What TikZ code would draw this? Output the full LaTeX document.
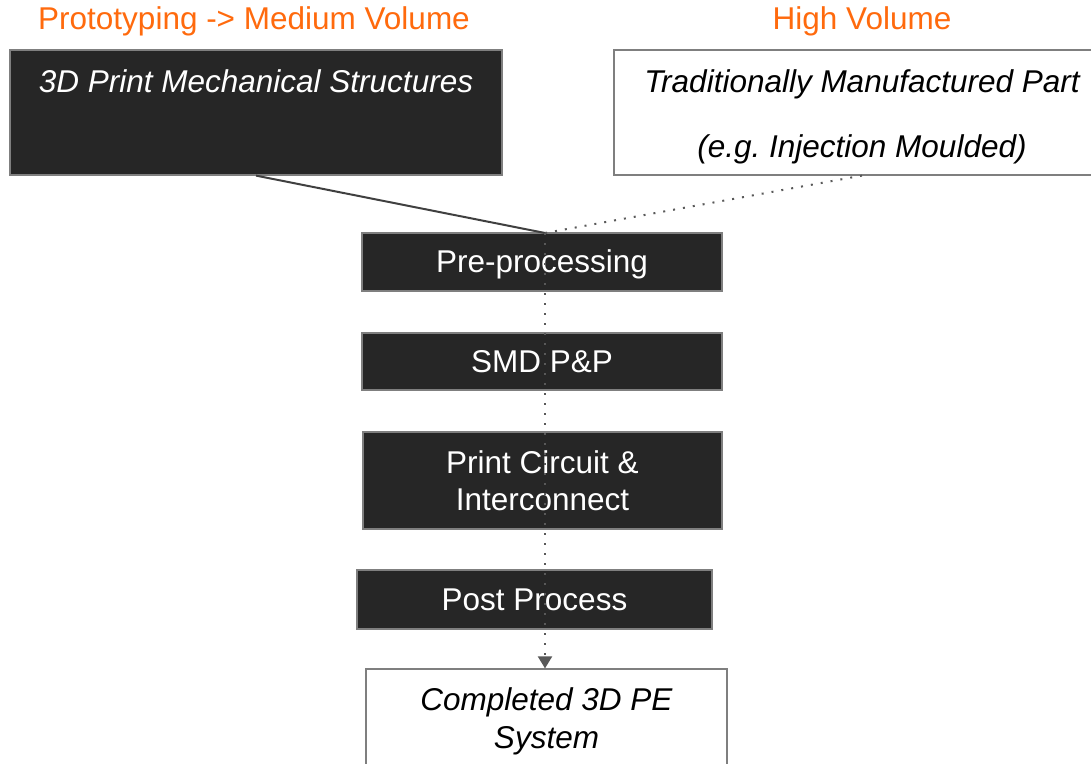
\documentclass[tikz,border=0pt]{standalone}
\usepackage{fontspec}
\setmainfont{Liberation Sans}
\usetikzlibrary{arrows.meta}
\definecolor{boxdark}{HTML}{262626}
\definecolor{boxedge}{HTML}{7F7F7F}
\definecolor{linegray}{HTML}{404040}
\definecolor{dotgray}{HTML}{595959}
\definecolor{titleorange}{HTML}{FF6A0D}
\tikzset{
  darkbox/.style={draw=boxedge, line width=1.2pt, fill=boxdark, text=white, inner sep=0pt, align=center,
    font=\fontsize{31.5}{37}\selectfont},
  onerow/.style={text height=27pt, text depth=6pt},
  lightbox/.style={draw=boxedge, line width=1.2pt, fill=white, text=black, inner sep=0pt, align=center,
    font=\fontsize{31.5}{37}\selectfont\itshape},
  title/.style={text=titleorange, inner sep=0pt, font=\fontsize{31.5}{34}\selectfont},
  solidlink/.style={draw=linegray, line width=2pt},
  dotlink/.style={draw=dotgray, line width=2pt, dash pattern=on 2pt off 8pt}
}
\begin{document}
\begin{tikzpicture}[x=1pt,y=1pt]
\useasboundingbox (0,0) rectangle (1091,-763);
\node[title] (t1) at (254,-21) {Prototyping -> Medium Volume};
\node[title] (t2) at (862,-21) {High Volume};
\node[darkbox, font=\fontsize{31.5}{65}\selectfont\itshape, minimum width=492pt, minimum height=125pt] (mech) at (256,-112.5)
  {\rule{0pt}{31pt}3D Print Mechanical Structures\\ \phantom{(e.g.)}};
\node[lightbox, font=\fontsize{31.5}{65}\selectfont\itshape, minimum width=496pt, minimum height=125pt] (trad) at (862,-112.5)
  {\rule{0pt}{31pt}Traditionally Manufactured Part\\(e.g.\ Injection Moulded)};
\node[darkbox, onerow, minimum width=360pt, minimum height=58pt] (pre) at (542,-262) {Pre-processing};
\node[darkbox, onerow, minimum width=360pt, minimum height=57pt] (smd) at (542,-361.5) {SMD P\&P};
\node[darkbox, minimum width=359pt, minimum height=97pt] (circ) at (542.5,-480.5) {Print Circuit \&\\Interconnect};
\node[darkbox, onerow, minimum width=355pt, minimum height=59pt] (post) at (534.5,-599.5) {Post Process};
\node[lightbox, minimum width=361pt, minimum height=99pt] (done) at (546.5,-718.5) {\rule{0pt}{29pt}Completed 3D PE\\[1pt]System};
\coordinate (j) at (545,-233);
\draw[solidlink] (mech.south) -- (j);
\draw[dotlink] (trad.south) -- (j);
\draw[dotlink, -{Triangle[width=14pt,length=12pt]}] (j) -- (j |- done.north);
\end{tikzpicture}
\end{document}
